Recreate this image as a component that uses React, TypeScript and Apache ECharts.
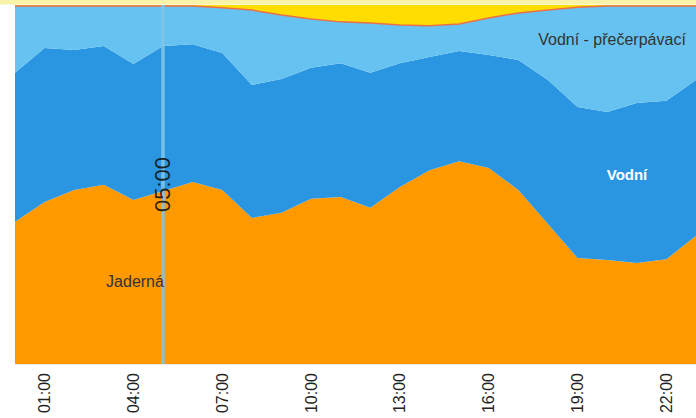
import React, { useEffect, useRef } from "react";
import * as echarts from "echarts";

// Hours of the day (category axis)
const hours = [
  "00:00", "01:00", "02:00", "03:00", "04:00", "05:00", "06:00", "07:00",
  "08:00", "09:00", "10:00", "11:00", "12:00", "13:00", "14:00", "15:00",
  "16:00", "17:00", "18:00", "19:00", "20:00", "21:00", "22:00", "23:00",
];

// Share of production (%), stacked bottom to top
const jaderna = [
  39.6, 45.1, 48.5, 49.9, 45.7, 48.2, 50.7, 48.5, 40.7, 42.1, 46.0, 46.5,
  43.5, 49.3, 54.0, 56.5, 54.6, 48.5, 39.0, 29.5, 29.0, 28.1, 29.2, 35.7,
];
const vodni = [
  41.5, 42.9, 39.0, 38.7, 37.9, 40.4, 38.4, 38.1, 37.0, 37.3, 36.5, 37.3,
  37.6, 34.5, 31.5, 30.7, 31.5, 36.2, 40.1, 42.1, 41.2, 44.6, 44.1, 43.4,
];
const precerpavaci = [
  18.6, 11.7, 12.2, 11.1, 16.1, 11.1, 10.6, 12.6, 20.9, 17.8, 13.6, 11.5,
  13.9, 10.6, 8.7, 7.5, 10.3, 13.1, 19.5, 27.8, 29.5, 27.0, 26.4, 20.6,
];
const fotovoltaicke = [
  0.3, 0.3, 0.3, 0.3, 0.3, 0.3, 0.3, 0.8, 1.4, 2.8, 3.9, 4.7,
  5.0, 5.6, 5.8, 5.3, 3.6, 2.2, 1.4, 0.6, 0.3, 0.3, 0.3, 0.3,
];

const markerHour = "05:00";
const labelJaderna = "Jaderná";
const labelVodni = "Vodní";
const labelPrecerpavaci = "Vodní - přečerpávací";

const FONT = "'Liberation Sans', Arial, sans-serif";

export default function App() {
  const ref = useRef<HTMLDivElement>(null);

  useEffect(() => {
    if (!ref.current) return;
    const chart = echarts.init(ref.current, null, { renderer: "svg" });

    const area = (name: string, data: number[], color: string, extra: any = {}) => ({
      name,
      type: "line",
      stack: "total",
      data,
      symbol: "none",
      smooth: false,
      itemStyle: { color },
      lineStyle: { width: 0, color },
      areaStyle: { color, opacity: 1 },
      emphasis: { disabled: true },
      ...extra,
    });

    chart.setOption({
      animation: false,
      backgroundColor: "#ffffff",
      grid: { left: 15, top: 5, width: 685, bottom: 54 },
      xAxis: {
        type: "category",
        data: hours,
        boundaryGap: false,
        axisLine: { show: false },
        axisTick: { show: false },
        splitLine: { show: false },
        axisLabel: {
          rotate: 90,
          interval: (i: number) => i % 3 === 1,
          color: "#222",
          fontSize: 16,
          fontFamily: FONT,
          margin: 9,
        },
      },
      yAxis: {
        type: "value",
        min: 0,
        max: 100,
        interval: 20,
        axisLabel: { show: false },
        axisLine: { show: false },
        axisTick: { show: false },
        splitLine: { lineStyle: { color: "#e8e8e8", width: 1 } },
      },
      series: [
        area(labelJaderna, jaderna, "#ff9900"),
        area(labelVodni, vodni, "#2a95e0"),
        area(labelPrecerpavaci, precerpavaci, "#66c2f0", {
          lineStyle: { width: 1.5, color: "#e8704a" },
        }),
        area("Fotovoltaické", fotovoltaicke, "#ffdd00", {
          markLine: {
            silent: true,
            z: 10,
            symbol: ["none", "none"],
            lineStyle: { color: "#7fc4e6", width: 3.5, type: "solid", opacity: 0.9 },
            label: {
              show: true,
              formatter: markerHour,
              position: "middle",
              distance: -10,
              color: "#111",
              fontSize: 22,
              fontFamily: FONT,
            },
            data: [{ xAxis: markerHour }],
          },
        }),
      ],
      graphic: [
        {
          type: "rect",
          shape: { x: 0, y: 0, width: 696, height: 4.5 },
          style: { fill: "#f8f3a8" },
          z: 50,
        },
        {
          type: "text",
          x: 135,
          y: 281,
          z: 100,
          style: {
            text: labelJaderna,
            align: "center",
            verticalAlign: "middle",
            fill: "#333",
            fontSize: 16,
            fontFamily: FONT,
          },
        },
        {
          type: "text",
          x: 627,
          y: 174,
          z: 100,
          style: {
            text: labelVodni,
            align: "center",
            verticalAlign: "middle",
            fill: "#ffffff",
            fontSize: 15,
            fontWeight: "bold",
            fontFamily: FONT,
          },
        },
        {
          type: "text",
          x: 612,
          y: 39,
          z: 100,
          style: {
            text: labelPrecerpavaci,
            align: "center",
            verticalAlign: "middle",
            fill: "#333",
            fontSize: 16,
            fontFamily: FONT,
          },
        },
      ],
    });

    return () => chart.dispose();
  }, []);

  return (
    <div
      ref={ref}
      style={{ position: "fixed", left: 0, top: 0, width: 696, height: 418 }}
    />
  );
}
